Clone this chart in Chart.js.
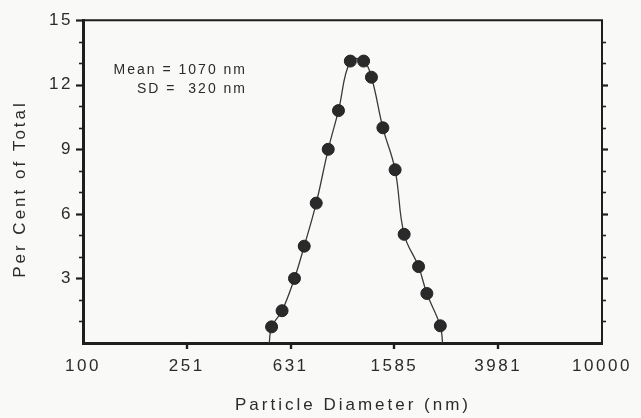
<!DOCTYPE html>
<html><head><meta charset="utf-8">
<script src="https://cdn.jsdelivr.net/npm/chart.js@4.4.1/dist/chart.umd.min.js"></script>
<style>html,body{margin:0;padding:0;background:#f9f9f8;}canvas{display:block}</style>
</head><body>
<canvas id="c" width="641" height="418"></canvas>
<script>
// Particle diameter (nm) of each measured class and its share (% of total)
const diameters = [533, 585, 653, 712, 792, 881, 965, 1072, 1206, 1293, 1431, 1595, 1728, 1964, 2114, 2382];
const percents  = [0.75, 1.5, 3.0, 4.5, 6.5, 9.0, 10.8, 13.1, 13.1, 12.35, 10.0, 8.05, 5.05, 3.55, 2.3, 0.8];
// where the fitted curve meets the x axis
const curveStart = [522, 0];
const curveEnd   = [2431, 0];
const xTickValues = [100, 251, 631, 1585, 3981, 10000];
const xTickLabels = ['100', '251', '631', '1585', '3981', '10000'];
const yTickValues = [3, 6, 9, 12, 15];
const xTitle = 'Particle Diameter (nm)';
const yTitle = 'Per Cent of Total';
const noteLines = ['Mean = 1070 nm', 'SD =  320 nm'];

const INK = '#1e1e1e';
const TEXT = '#2b2b2b';
const FONT = '"Liberation Sans", Arial, Helvetica, sans-serif';

const points = diameters.map((d, i) => ({x: d, y: percents[i]}));
const curve = [{x: curveStart[0], y: curveStart[1]}, ...points, {x: curveEnd[0], y: curveEnd[1]}];

const decor = {
  id: 'decor',
  beforeDraw(chart) { chart.ctx.letterSpacing = '2.5px'; },
  afterDraw(chart) {
    const {ctx, chartArea: a, scales: {x, y}} = chart;
    ctx.save();
    ctx.strokeStyle = INK;
    ctx.lineCap = 'butt';
    // top + right frame
    ctx.lineWidth = 2;
    ctx.beginPath();
    ctx.moveTo(a.left, a.top); ctx.lineTo(a.right, a.top); ctx.lineTo(a.right, a.bottom);
    ctx.stroke();
    // y tick marks (left and right)
    for (let v = 1; v <= 15; v++) {
      const py = Math.round(y.getPixelForValue(v)) + 0.5;
      const major = v % 3 === 0;
      ctx.lineWidth = major ? 2.2 : 1.6;
      ctx.beginPath(); ctx.moveTo(a.left, py); ctx.lineTo(a.left - (major ? 7 : 4), py); ctx.stroke();
      if (v < 15) {
        ctx.beginPath(); ctx.moveTo(a.right, py); ctx.lineTo(a.right + (major ? 6 : 4), py); ctx.stroke();
      }
    }
    // x tick marks
    ctx.lineWidth = 2.4;
    xTickValues.slice(1, -1).forEach(v => {
      const px = Math.round(x.getPixelForValue(v));
      ctx.beginPath(); ctx.moveTo(px, a.bottom); ctx.lineTo(px, a.bottom + 6); ctx.stroke();
    });
    // axis titles
    ctx.fillStyle = TEXT;
    ctx.font = '17px ' + FONT;
    ctx.letterSpacing = '3px';
    ctx.textAlign = 'center';
    ctx.textBaseline = 'alphabetic';
    ctx.fillText(xTitle, (a.left + a.right) / 2 + 10.5, 410);
    ctx.save();
    ctx.translate(25, 189);
    ctx.rotate(-Math.PI / 2);
    ctx.fillText(yTitle, 0, 0);
    ctx.restore();
    // annotation
    ctx.font = '14px ' + FONT;
    ctx.letterSpacing = '2px';
    ctx.textAlign = 'right';
    ctx.fillText(noteLines[0], a.left + 164, a.top + 54);
    ctx.fillText(noteLines[1], a.left + 164, a.top + 73);
    ctx.restore();
  }
};

new Chart(document.getElementById('c'), {
  type: 'scatter',
  data: {
    datasets: [
      {
        data: points, order: 0, showLine: false,
        pointRadius: 6, pointHoverRadius: 6,
        pointBackgroundColor: '#2a2a2a', pointBorderColor: '#222', pointBorderWidth: 1
      },
      {
        data: curve, order: 1, showLine: true, pointRadius: 0,
        borderColor: '#3a3a3a', borderWidth: 1.3, tension: 0.4, fill: false
      }
    ]
  },
  options: {
    responsive: false,
    devicePixelRatio: 1,
    animation: false,
    layout: {padding: {top: 16, right: 39, left: 0, bottom: 0}},
    plugins: {legend: {display: false}, tooltip: {enabled: false}},
    scales: {
      x: {
        type: 'logarithmic', min: 100, max: 10000,
        afterBuildTicks: s => { s.ticks = xTickValues.map(v => ({value: v})); },
        afterFit: s => { s.height = 75; },
        grid: {display: false, drawTicks: false},
        border: {display: true, width: 3, color: INK},
        ticks: {
          autoSkip: false, maxRotation: 0, minRotation: 0, padding: 13,
          color: TEXT, font: {family: FONT, size: 17},
          callback: (v, i) => xTickLabels[i]
        }
      },
      y: {
        min: 0, max: 15,
        afterBuildTicks: s => { s.ticks = yTickValues.map(v => ({value: v})); },
        afterFit: s => { s.width = 83; },
        grid: {display: false, drawTicks: false},
        border: {display: true, width: 3, color: INK},
        ticks: {padding: 10, color: TEXT, font: {family: FONT, size: 17}}
      }
    }
  },
  plugins: [decor]
});
</script>
</body></html>
